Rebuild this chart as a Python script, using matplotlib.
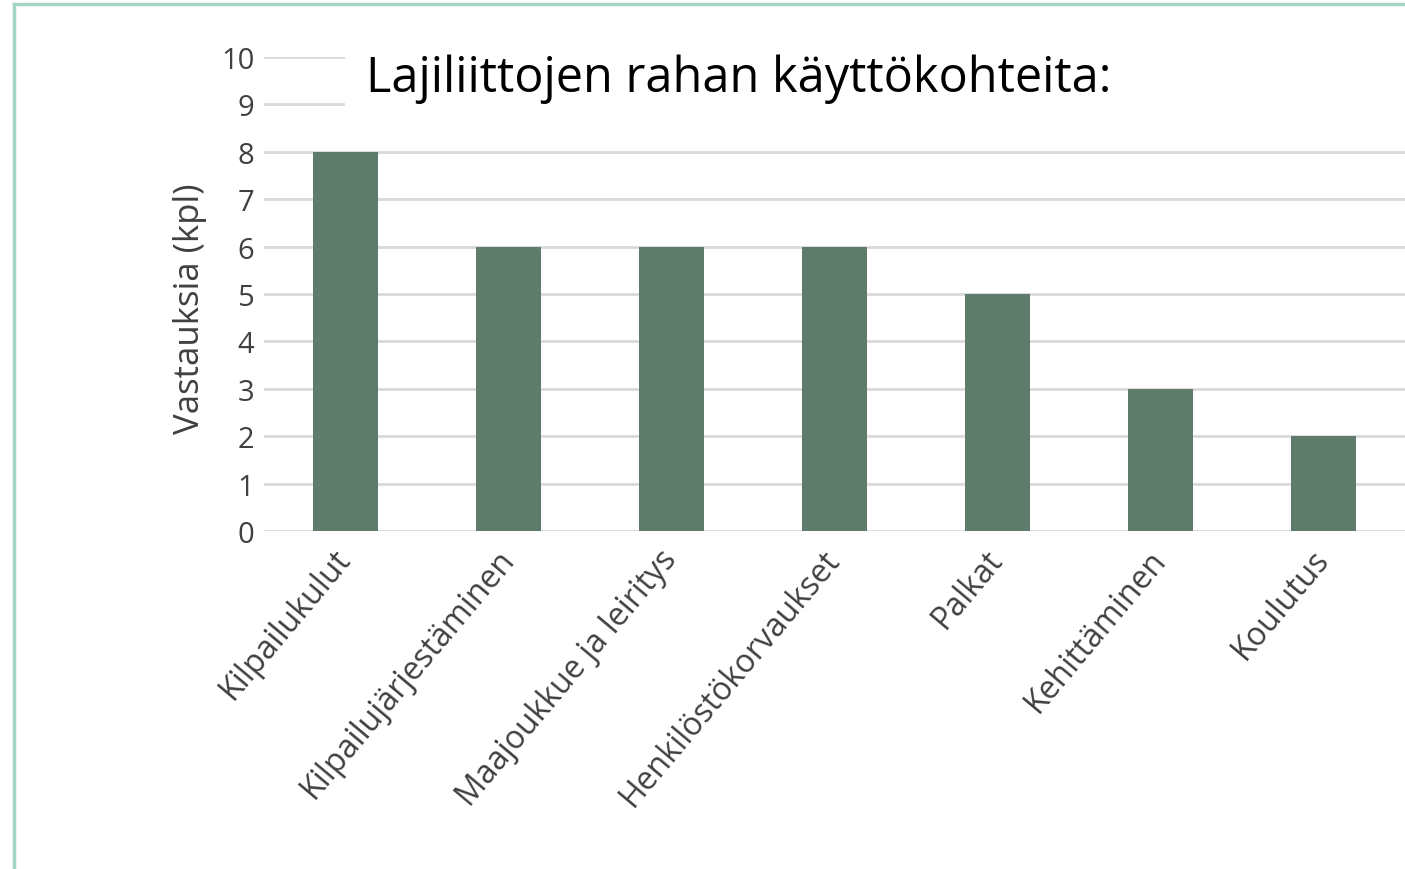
import matplotlib
matplotlib.use("Agg")
import matplotlib.pyplot as plt
from matplotlib.patches import Rectangle
from matplotlib.lines import Line2D

categories = ["Kilpailukulut", "Kilpailujärjestäminen", "Maajoukkue ja leiritys",
              "Henkilöstökorvaukset", "Palkat", "Kehittäminen", "Koulutus"]
values = [8, 6, 6, 6, 5, 3, 2]
yticks = list(range(0, 11))
title = "Lajiliittojen rahan käyttökohteita:"
ylabel = "Vastauksia (kpl)"

W, H = 1405, 870
fig = plt.figure(figsize=(W / 100, H / 100), dpi=100)
fig.patch.set_facecolor("white")

def fx(px):
    return px / W

def fy(py):
    return 1 - py / H

ax = fig.add_axes([fx(264), fy(532), 1 - fx(264), fy(58) - fy(532)])
x = list(range(len(categories)))
ax.bar(x, values, width=0.4, color="#5f7b6b", zorder=3)
ax.set_xlim(-0.5, 6.5)
ax.set_ylim(0, 10)
ax.set_yticks(yticks)
ax.set_yticklabels([str(v) for v in yticks], fontsize=21, color="#404040", family="Open Sans")
ax.grid(axis="y", color="#d9d9d9", linewidth=2, zorder=0)
ax.set_axisbelow(True)
for s in ax.spines.values():
    s.set_visible(False)
ax.tick_params(axis="y", length=0, pad=7)
ax.set_xticks(x)
ax.set_xticklabels(categories, rotation=50, ha="right", va="center", rotation_mode="anchor",
                   fontsize=23, color="#404040", family="Open Sans")
ax.tick_params(axis="x", length=0, pad=16)

fig.text(fx(190), fy(309), ylabel, rotation=90, ha="center", va="center",
         fontsize=25, color="#404040", family="Open Sans")

# white box behind title
fig.add_artist(Rectangle((fx(345), fy(128)), 1 - fx(345), fy(40) - fy(128),
                         transform=fig.transFigure, facecolor="white", edgecolor="none", zorder=5))
fig.text(fx(366), fy(79), title, ha="left", va="center", fontsize=35,
         color="black", family="Open Sans", zorder=6)

# slide border
fig.add_artist(Line2D([fx(14), 1], [fy(5), fy(5)], transform=fig.transFigure,
                      color="#a3d5c6", linewidth=2.5, zorder=7))
fig.add_artist(Line2D([fx(14), fx(14)], [fy(5), 0], transform=fig.transFigure,
                      color="#a3d5c6", linewidth=2.5, zorder=7))

fig.savefig("out.png", dpi=100)
